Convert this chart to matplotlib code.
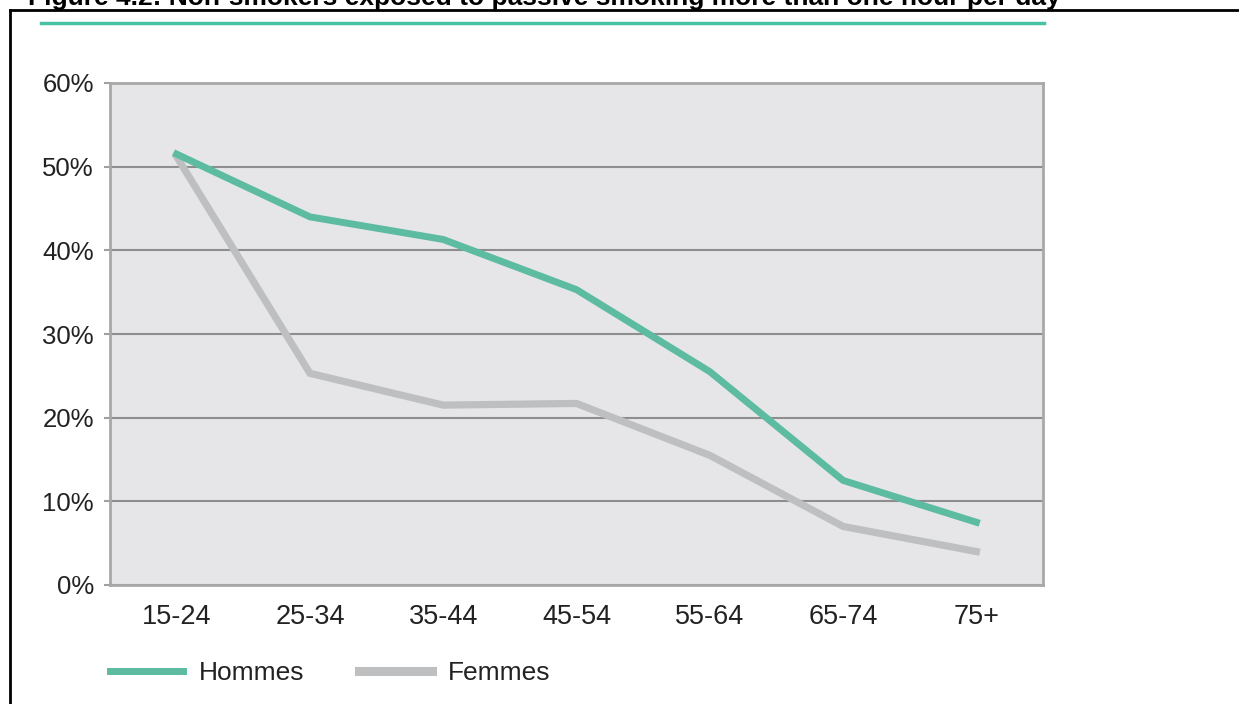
import matplotlib.pyplot as plt
from matplotlib.lines import Line2D

# data
age_groups = ['15-24', '25-34', '35-44', '45-54', '55-64', '65-74', '75+']
hommes = [51.5, 44.0, 41.3, 35.3, 25.5, 12.5, 7.5]
femmes = [51.2, 25.3, 21.5, 21.7, 15.5, 7.0, 4.0]
y_ticks = [0, 10, 20, 30, 40, 50, 60]
title = 'Figure 4.2: Non-smokers exposed to passive smoking more than one hour per day'

green = '#5cbba0'
grey = '#bdbfc1'

plt.rcParams['font.family'] = ['Liberation Sans', 'DejaVu Sans']

W, H = 1239, 704
fig = plt.figure(figsize=(W / 100, H / 100), dpi=100)
fig.patch.set_facecolor('white')

# title, cut off by the top of the page
fig.text(28 / W, 1 - 5 / H, title, fontsize=19, fontweight='bold',
         ha='left', va='baseline', color='black')

# black frame (top and left) and the teal rule
fig.add_artist(Line2D([10 / W, 10 / W], [0, 1 - 10 / H], color='black', lw=2,
                      transform=fig.transFigure))
fig.add_artist(Line2D([10 / W, 1], [1 - 10 / H, 1 - 10 / H], color='black', lw=2,
                      transform=fig.transFigure))
fig.add_artist(Line2D([41 / W, 1044 / W], [1 - 23 / H, 1 - 23 / H], color='#47c3a3',
                      lw=2.5, transform=fig.transFigure))

ax = fig.add_axes([110 / W, 1 - 585 / H, (1043 - 110) / W, (585 - 83) / H])
ax.set_facecolor('#e6e6e9')

x = range(len(age_groups))
ax.plot(x, femmes, color=grey, lw=5.2, solid_joinstyle='miter', label='Femmes', zorder=3)
ax.plot(x, hommes, color=green, lw=5.0, solid_joinstyle='miter', label='Hommes', zorder=4)

ax.set_xlim(-0.5, len(age_groups) - 0.5)
ax.set_ylim(0, 60)
ax.set_yticks(y_ticks)
ax.set_yticklabels([f'{v}%' for v in y_ticks])
ax.set_xticks(list(x))
ax.set_xticklabels(age_groups)

ax.yaxis.grid(True, color='#8e8e8e', lw=1.5)
ax.set_axisbelow(True)
for s in ax.spines.values():
    s.set_color('#a8a8a8')
    s.set_linewidth(2)

ax.tick_params(axis='y', length=4.5, width=1.5, color='#a0a0a0', pad=7,
               labelsize=18.5, labelcolor='#222222')
ax.tick_params(axis='x', length=0, pad=14, labelsize=19.5, labelcolor='#222222')

handles = [Line2D([], [], color=green, lw=5), Line2D([], [], color=grey, lw=6.5)]
fig.legend(handles, ['Hommes', 'Femmes'], loc='center left',
           bbox_to_anchor=(110 / W, 1 - 673 / H), ncol=2, frameon=False,
           fontsize=19, handlelength=2.75, handletextpad=0.6, columnspacing=2.1,
           borderpad=0, borderaxespad=0, labelcolor='#222222')

fig.savefig('out.png', dpi=100)
